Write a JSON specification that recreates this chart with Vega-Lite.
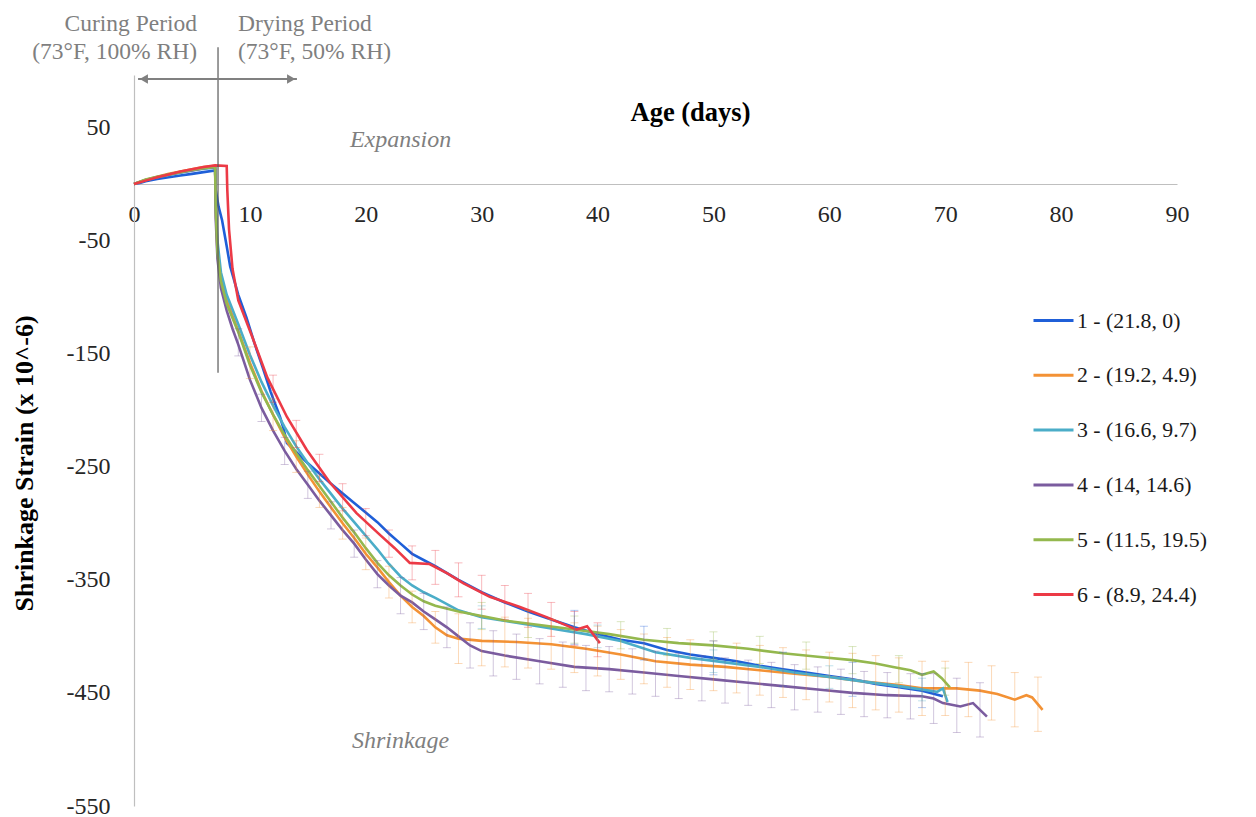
{
  "$schema": "https://vega.github.io/schema/vega-lite/v6.json",
  "width": 1043,
  "height": 731,
  "autosize": "none",
  "padding": {"left": 134, "top": 75, "right": 79, "bottom": 11},
  "background": "white",
  "config": {
    "view": {"stroke": null},
    "font": "Liberation Serif",
    "legend": {
      "symbolType": "stroke",
      "symbolSize": 1600,
      "symbolStrokeWidth": 3,
      "labelFont": "Liberation Serif",
      "labelFontSize": 21.8,
      "labelColor": "#1a1a1a",
      "labelOffset": 2,
      "rowPadding": 20.8
    }
  },
  "resolve": {"scale": {"color": "independent"}, "legend": {"color": "independent"}},
  "datasets": {
    "strain": [
      {"m": "1 - (21.8, 0)", "d": 0, "v": 0}, {"m": "1 - (21.8, 0)", "d": 0.5, "v": 1}, {"m": "1 - (21.8, 0)", "d": 1, "v": 2.5}, {"m": "1 - (21.8, 0)", "d": 2, "v": 4.5}, {"m": "1 - (21.8, 0)", "d": 3, "v": 6}, {"m": "1 - (21.8, 0)", "d": 4, "v": 7.5}, {"m": "1 - (21.8, 0)", "d": 5, "v": 9}, {"m": "1 - (21.8, 0)", "d": 6, "v": 10.5}, {"m": "1 - (21.8, 0)", "d": 7, "v": 12}, {"m": "1 - (21.8, 0)", "d": 7.05, "v": -5}, {"m": "1 - (21.8, 0)", "d": 7.3, "v": -20}, {"m": "1 - (21.8, 0)", "d": 7.6, "v": -32}, {"m": "1 - (21.8, 0)", "d": 8, "v": -55}, {"m": "1 - (21.8, 0)", "d": 8.3, "v": -73}, {"m": "1 - (21.8, 0)", "d": 9, "v": -98}, {"m": "1 - (21.8, 0)", "d": 9.7, "v": -118}, {"m": "1 - (21.8, 0)", "d": 10.4, "v": -141}, {"m": "1 - (21.8, 0)", "d": 11.1, "v": -162}, {"m": "1 - (21.8, 0)", "d": 11.8, "v": -184}, {"m": "1 - (21.8, 0)", "d": 12.6, "v": -206}, {"m": "1 - (21.8, 0)", "d": 12.9, "v": -216}, {"m": "1 - (21.8, 0)", "d": 13.2, "v": -229}, {"m": "1 - (21.8, 0)", "d": 15, "v": -247}, {"m": "1 - (21.8, 0)", "d": 17, "v": -265}, {"m": "1 - (21.8, 0)", "d": 19, "v": -282}, {"m": "1 - (21.8, 0)", "d": 21, "v": -299}, {"m": "1 - (21.8, 0)", "d": 22, "v": -309}, {"m": "1 - (21.8, 0)", "d": 23, "v": -318}, {"m": "1 - (21.8, 0)", "d": 24, "v": -327}, {"m": "1 - (21.8, 0)", "d": 26, "v": -338}, {"m": "1 - (21.8, 0)", "d": 28, "v": -350}, {"m": "1 - (21.8, 0)", "d": 30, "v": -361}, {"m": "1 - (21.8, 0)", "d": 32, "v": -370}, {"m": "1 - (21.8, 0)", "d": 34, "v": -378}, {"m": "1 - (21.8, 0)", "d": 36, "v": -385}, {"m": "1 - (21.8, 0)", "d": 38, "v": -392}, {"m": "1 - (21.8, 0)", "d": 40, "v": -398}, {"m": "1 - (21.8, 0)", "d": 42, "v": -403}, {"m": "1 - (21.8, 0)", "d": 44, "v": -406}, {"m": "1 - (21.8, 0)", "d": 46, "v": -412}, {"m": "1 - (21.8, 0)", "d": 48, "v": -416}, {"m": "1 - (21.8, 0)", "d": 50, "v": -419}, {"m": "1 - (21.8, 0)", "d": 52, "v": -422}, {"m": "1 - (21.8, 0)", "d": 54, "v": -426}, {"m": "1 - (21.8, 0)", "d": 56, "v": -429}, {"m": "1 - (21.8, 0)", "d": 58, "v": -432}, {"m": "1 - (21.8, 0)", "d": 60, "v": -435}, {"m": "1 - (21.8, 0)", "d": 62, "v": -438}, {"m": "1 - (21.8, 0)", "d": 64, "v": -442}, {"m": "1 - (21.8, 0)", "d": 66, "v": -445}, {"m": "1 - (21.8, 0)", "d": 68, "v": -448}, {"m": "1 - (21.8, 0)", "d": 69.8, "v": -453},

      {"m": "2 - (19.2, 4.9)", "d": 0, "v": 0}, {"m": "2 - (19.2, 4.9)", "d": 1, "v": 3.5}, {"m": "2 - (19.2, 4.9)", "d": 2, "v": 6.5}, {"m": "2 - (19.2, 4.9)", "d": 3, "v": 9}, {"m": "2 - (19.2, 4.9)", "d": 4, "v": 11}, {"m": "2 - (19.2, 4.9)", "d": 5, "v": 13}, {"m": "2 - (19.2, 4.9)", "d": 6, "v": 15}, {"m": "2 - (19.2, 4.9)", "d": 7, "v": 16}, {"m": "2 - (19.2, 4.9)", "d": 7.05, "v": -20}, {"m": "2 - (19.2, 4.9)", "d": 7.2, "v": -58}, {"m": "2 - (19.2, 4.9)", "d": 7.5, "v": -83}, {"m": "2 - (19.2, 4.9)", "d": 8, "v": -103}, {"m": "2 - (19.2, 4.9)", "d": 9, "v": -130}, {"m": "2 - (19.2, 4.9)", "d": 10, "v": -158}, {"m": "2 - (19.2, 4.9)", "d": 11, "v": -183}, {"m": "2 - (19.2, 4.9)", "d": 12, "v": -204}, {"m": "2 - (19.2, 4.9)", "d": 13, "v": -224}, {"m": "2 - (19.2, 4.9)", "d": 14, "v": -241}, {"m": "2 - (19.2, 4.9)", "d": 15, "v": -257}, {"m": "2 - (19.2, 4.9)", "d": 16, "v": -272}, {"m": "2 - (19.2, 4.9)", "d": 17, "v": -286}, {"m": "2 - (19.2, 4.9)", "d": 18, "v": -300}, {"m": "2 - (19.2, 4.9)", "d": 19, "v": -313}, {"m": "2 - (19.2, 4.9)", "d": 20, "v": -327}, {"m": "2 - (19.2, 4.9)", "d": 21, "v": -339}, {"m": "2 - (19.2, 4.9)", "d": 22, "v": -352}, {"m": "2 - (19.2, 4.9)", "d": 23, "v": -364}, {"m": "2 - (19.2, 4.9)", "d": 24, "v": -374}, {"m": "2 - (19.2, 4.9)", "d": 25, "v": -382}, {"m": "2 - (19.2, 4.9)", "d": 26, "v": -392}, {"m": "2 - (19.2, 4.9)", "d": 27, "v": -399}, {"m": "2 - (19.2, 4.9)", "d": 28, "v": -402}, {"m": "2 - (19.2, 4.9)", "d": 30, "v": -404}, {"m": "2 - (19.2, 4.9)", "d": 33, "v": -405}, {"m": "2 - (19.2, 4.9)", "d": 36, "v": -407}, {"m": "2 - (19.2, 4.9)", "d": 39, "v": -411}, {"m": "2 - (19.2, 4.9)", "d": 42, "v": -416}, {"m": "2 - (19.2, 4.9)", "d": 45, "v": -422}, {"m": "2 - (19.2, 4.9)", "d": 48, "v": -425}, {"m": "2 - (19.2, 4.9)", "d": 51, "v": -427}, {"m": "2 - (19.2, 4.9)", "d": 54, "v": -430}, {"m": "2 - (19.2, 4.9)", "d": 57, "v": -433}, {"m": "2 - (19.2, 4.9)", "d": 60, "v": -436}, {"m": "2 - (19.2, 4.9)", "d": 63, "v": -440}, {"m": "2 - (19.2, 4.9)", "d": 66, "v": -443}, {"m": "2 - (19.2, 4.9)", "d": 68, "v": -446}, {"m": "2 - (19.2, 4.9)", "d": 71, "v": -446}, {"m": "2 - (19.2, 4.9)", "d": 73, "v": -448}, {"m": "2 - (19.2, 4.9)", "d": 74.5, "v": -451}, {"m": "2 - (19.2, 4.9)", "d": 76, "v": -456}, {"m": "2 - (19.2, 4.9)", "d": 77, "v": -452}, {"m": "2 - (19.2, 4.9)", "d": 77.5, "v": -454}, {"m": "2 - (19.2, 4.9)", "d": 78.4, "v": -465},

      {"m": "3 - (16.6, 9.7)", "d": 0, "v": 0}, {"m": "3 - (16.6, 9.7)", "d": 1, "v": 3.5}, {"m": "3 - (16.6, 9.7)", "d": 2, "v": 6}, {"m": "3 - (16.6, 9.7)", "d": 3, "v": 8}, {"m": "3 - (16.6, 9.7)", "d": 4, "v": 10}, {"m": "3 - (16.6, 9.7)", "d": 5, "v": 12}, {"m": "3 - (16.6, 9.7)", "d": 6, "v": 13.5}, {"m": "3 - (16.6, 9.7)", "d": 7, "v": 14.5}, {"m": "3 - (16.6, 9.7)", "d": 7.05, "v": -15}, {"m": "3 - (16.6, 9.7)", "d": 7.2, "v": -50}, {"m": "3 - (16.6, 9.7)", "d": 7.5, "v": -78}, {"m": "3 - (16.6, 9.7)", "d": 8, "v": -98}, {"m": "3 - (16.6, 9.7)", "d": 9, "v": -124}, {"m": "3 - (16.6, 9.7)", "d": 10, "v": -151}, {"m": "3 - (16.6, 9.7)", "d": 11, "v": -175}, {"m": "3 - (16.6, 9.7)", "d": 12, "v": -196}, {"m": "3 - (16.6, 9.7)", "d": 13, "v": -215}, {"m": "3 - (16.6, 9.7)", "d": 14, "v": -232}, {"m": "3 - (16.6, 9.7)", "d": 15, "v": -247}, {"m": "3 - (16.6, 9.7)", "d": 16, "v": -261}, {"m": "3 - (16.6, 9.7)", "d": 17, "v": -274}, {"m": "3 - (16.6, 9.7)", "d": 18, "v": -287}, {"m": "3 - (16.6, 9.7)", "d": 19, "v": -299}, {"m": "3 - (16.6, 9.7)", "d": 20, "v": -311}, {"m": "3 - (16.6, 9.7)", "d": 21, "v": -323}, {"m": "3 - (16.6, 9.7)", "d": 22, "v": -336}, {"m": "3 - (16.6, 9.7)", "d": 23, "v": -347}, {"m": "3 - (16.6, 9.7)", "d": 24, "v": -355}, {"m": "3 - (16.6, 9.7)", "d": 25, "v": -361}, {"m": "3 - (16.6, 9.7)", "d": 26, "v": -366}, {"m": "3 - (16.6, 9.7)", "d": 28, "v": -377}, {"m": "3 - (16.6, 9.7)", "d": 30, "v": -383}, {"m": "3 - (16.6, 9.7)", "d": 33, "v": -388}, {"m": "3 - (16.6, 9.7)", "d": 36, "v": -393}, {"m": "3 - (16.6, 9.7)", "d": 39, "v": -398}, {"m": "3 - (16.6, 9.7)", "d": 42, "v": -404}, {"m": "3 - (16.6, 9.7)", "d": 45, "v": -414}, {"m": "3 - (16.6, 9.7)", "d": 48, "v": -419}, {"m": "3 - (16.6, 9.7)", "d": 51, "v": -423}, {"m": "3 - (16.6, 9.7)", "d": 54, "v": -427}, {"m": "3 - (16.6, 9.7)", "d": 57, "v": -432}, {"m": "3 - (16.6, 9.7)", "d": 60, "v": -436}, {"m": "3 - (16.6, 9.7)", "d": 63, "v": -440}, {"m": "3 - (16.6, 9.7)", "d": 66, "v": -444}, {"m": "3 - (16.6, 9.7)", "d": 68, "v": -447}, {"m": "3 - (16.6, 9.7)", "d": 69.3, "v": -449}, {"m": "3 - (16.6, 9.7)", "d": 69.8, "v": -446}, {"m": "3 - (16.6, 9.7)", "d": 70.2, "v": -458},

      {"m": "4 - (14, 14.6)", "d": 0, "v": 0}, {"m": "4 - (14, 14.6)", "d": 1, "v": 3.5}, {"m": "4 - (14, 14.6)", "d": 2, "v": 6}, {"m": "4 - (14, 14.6)", "d": 3, "v": 8.5}, {"m": "4 - (14, 14.6)", "d": 4, "v": 10.5}, {"m": "4 - (14, 14.6)", "d": 5, "v": 12}, {"m": "4 - (14, 14.6)", "d": 6, "v": 14}, {"m": "4 - (14, 14.6)", "d": 7, "v": 15}, {"m": "4 - (14, 14.6)", "d": 7.05, "v": -30}, {"m": "4 - (14, 14.6)", "d": 7.2, "v": -66}, {"m": "4 - (14, 14.6)", "d": 7.5, "v": -92}, {"m": "4 - (14, 14.6)", "d": 8, "v": -112}, {"m": "4 - (14, 14.6)", "d": 8.5, "v": -128}, {"m": "4 - (14, 14.6)", "d": 9, "v": -142}, {"m": "4 - (14, 14.6)", "d": 10, "v": -173}, {"m": "4 - (14, 14.6)", "d": 11, "v": -198}, {"m": "4 - (14, 14.6)", "d": 12, "v": -218}, {"m": "4 - (14, 14.6)", "d": 13, "v": -236}, {"m": "4 - (14, 14.6)", "d": 14, "v": -252}, {"m": "4 - (14, 14.6)", "d": 15, "v": -266}, {"m": "4 - (14, 14.6)", "d": 16, "v": -280}, {"m": "4 - (14, 14.6)", "d": 17, "v": -293}, {"m": "4 - (14, 14.6)", "d": 18, "v": -306}, {"m": "4 - (14, 14.6)", "d": 19, "v": -318}, {"m": "4 - (14, 14.6)", "d": 20, "v": -332}, {"m": "4 - (14, 14.6)", "d": 21, "v": -345}, {"m": "4 - (14, 14.6)", "d": 22, "v": -355}, {"m": "4 - (14, 14.6)", "d": 23, "v": -364}, {"m": "4 - (14, 14.6)", "d": 24, "v": -370}, {"m": "4 - (14, 14.6)", "d": 25, "v": -378}, {"m": "4 - (14, 14.6)", "d": 26, "v": -385}, {"m": "4 - (14, 14.6)", "d": 27, "v": -392}, {"m": "4 - (14, 14.6)", "d": 28, "v": -400}, {"m": "4 - (14, 14.6)", "d": 29, "v": -408}, {"m": "4 - (14, 14.6)", "d": 30, "v": -413}, {"m": "4 - (14, 14.6)", "d": 32, "v": -417}, {"m": "4 - (14, 14.6)", "d": 35, "v": -422}, {"m": "4 - (14, 14.6)", "d": 38, "v": -427}, {"m": "4 - (14, 14.6)", "d": 41, "v": -429}, {"m": "4 - (14, 14.6)", "d": 44, "v": -432}, {"m": "4 - (14, 14.6)", "d": 47, "v": -435}, {"m": "4 - (14, 14.6)", "d": 50, "v": -438}, {"m": "4 - (14, 14.6)", "d": 53, "v": -441}, {"m": "4 - (14, 14.6)", "d": 56, "v": -444}, {"m": "4 - (14, 14.6)", "d": 59, "v": -447}, {"m": "4 - (14, 14.6)", "d": 62, "v": -450}, {"m": "4 - (14, 14.6)", "d": 65, "v": -452}, {"m": "4 - (14, 14.6)", "d": 68, "v": -453}, {"m": "4 - (14, 14.6)", "d": 69, "v": -455}, {"m": "4 - (14, 14.6)", "d": 69.8, "v": -459}, {"m": "4 - (14, 14.6)", "d": 71.3, "v": -462}, {"m": "4 - (14, 14.6)", "d": 72.4, "v": -459}, {"m": "4 - (14, 14.6)", "d": 73.6, "v": -471},

      {"m": "5 - (11.5, 19.5)", "d": 0, "v": 0}, {"m": "5 - (11.5, 19.5)", "d": 1, "v": 4}, {"m": "5 - (11.5, 19.5)", "d": 2, "v": 6.5}, {"m": "5 - (11.5, 19.5)", "d": 3, "v": 8.5}, {"m": "5 - (11.5, 19.5)", "d": 4, "v": 10.5}, {"m": "5 - (11.5, 19.5)", "d": 5, "v": 12.5}, {"m": "5 - (11.5, 19.5)", "d": 6, "v": 14}, {"m": "5 - (11.5, 19.5)", "d": 7, "v": 15}, {"m": "5 - (11.5, 19.5)", "d": 7.05, "v": -22}, {"m": "5 - (11.5, 19.5)", "d": 7.2, "v": -60}, {"m": "5 - (11.5, 19.5)", "d": 7.5, "v": -86}, {"m": "5 - (11.5, 19.5)", "d": 8, "v": -106}, {"m": "5 - (11.5, 19.5)", "d": 9, "v": -131}, {"m": "5 - (11.5, 19.5)", "d": 10, "v": -160}, {"m": "5 - (11.5, 19.5)", "d": 11, "v": -184}, {"m": "5 - (11.5, 19.5)", "d": 12, "v": -204}, {"m": "5 - (11.5, 19.5)", "d": 13, "v": -222}, {"m": "5 - (11.5, 19.5)", "d": 14, "v": -238}, {"m": "5 - (11.5, 19.5)", "d": 15, "v": -253}, {"m": "5 - (11.5, 19.5)", "d": 16, "v": -267}, {"m": "5 - (11.5, 19.5)", "d": 17, "v": -281}, {"m": "5 - (11.5, 19.5)", "d": 18, "v": -295}, {"m": "5 - (11.5, 19.5)", "d": 19, "v": -308}, {"m": "5 - (11.5, 19.5)", "d": 20, "v": -322}, {"m": "5 - (11.5, 19.5)", "d": 21, "v": -335}, {"m": "5 - (11.5, 19.5)", "d": 22, "v": -346}, {"m": "5 - (11.5, 19.5)", "d": 23, "v": -355}, {"m": "5 - (11.5, 19.5)", "d": 24, "v": -363}, {"m": "5 - (11.5, 19.5)", "d": 25, "v": -369}, {"m": "5 - (11.5, 19.5)", "d": 26, "v": -373}, {"m": "5 - (11.5, 19.5)", "d": 28, "v": -378}, {"m": "5 - (11.5, 19.5)", "d": 30, "v": -382}, {"m": "5 - (11.5, 19.5)", "d": 32, "v": -386}, {"m": "5 - (11.5, 19.5)", "d": 35, "v": -390}, {"m": "5 - (11.5, 19.5)", "d": 38, "v": -394}, {"m": "5 - (11.5, 19.5)", "d": 41, "v": -398}, {"m": "5 - (11.5, 19.5)", "d": 44, "v": -403}, {"m": "5 - (11.5, 19.5)", "d": 47, "v": -406}, {"m": "5 - (11.5, 19.5)", "d": 50, "v": -408}, {"m": "5 - (11.5, 19.5)", "d": 53, "v": -411}, {"m": "5 - (11.5, 19.5)", "d": 56, "v": -415}, {"m": "5 - (11.5, 19.5)", "d": 59, "v": -418}, {"m": "5 - (11.5, 19.5)", "d": 62, "v": -421}, {"m": "5 - (11.5, 19.5)", "d": 64, "v": -424}, {"m": "5 - (11.5, 19.5)", "d": 65.5, "v": -427}, {"m": "5 - (11.5, 19.5)", "d": 67, "v": -430}, {"m": "5 - (11.5, 19.5)", "d": 68, "v": -434}, {"m": "5 - (11.5, 19.5)", "d": 69, "v": -431}, {"m": "5 - (11.5, 19.5)", "d": 69.7, "v": -437}, {"m": "5 - (11.5, 19.5)", "d": 70.4, "v": -445},

      {"m": "6 - (8.9, 24.4)", "d": 0, "v": 0}, {"m": "6 - (8.9, 24.4)", "d": 1, "v": 3}, {"m": "6 - (8.9, 24.4)", "d": 2, "v": 6}, {"m": "6 - (8.9, 24.4)", "d": 3, "v": 8.5}, {"m": "6 - (8.9, 24.4)", "d": 4, "v": 11}, {"m": "6 - (8.9, 24.4)", "d": 5, "v": 13}, {"m": "6 - (8.9, 24.4)", "d": 6, "v": 15}, {"m": "6 - (8.9, 24.4)", "d": 7, "v": 16.5}, {"m": "6 - (8.9, 24.4)", "d": 8, "v": 16}, {"m": "6 - (8.9, 24.4)", "d": 8.05, "v": -5}, {"m": "6 - (8.9, 24.4)", "d": 8.2, "v": -40}, {"m": "6 - (8.9, 24.4)", "d": 8.5, "v": -75}, {"m": "6 - (8.9, 24.4)", "d": 9, "v": -103}, {"m": "6 - (8.9, 24.4)", "d": 10.2, "v": -135}, {"m": "6 - (8.9, 24.4)", "d": 11.5, "v": -171}, {"m": "6 - (8.9, 24.4)", "d": 13.2, "v": -206}, {"m": "6 - (8.9, 24.4)", "d": 14.9, "v": -235}, {"m": "6 - (8.9, 24.4)", "d": 16.9, "v": -264}, {"m": "6 - (8.9, 24.4)", "d": 19.2, "v": -291}, {"m": "6 - (8.9, 24.4)", "d": 21.2, "v": -310}, {"m": "6 - (8.9, 24.4)", "d": 22.5, "v": -322}, {"m": "6 - (8.9, 24.4)", "d": 23.8, "v": -335}, {"m": "6 - (8.9, 24.4)", "d": 25.5, "v": -336}, {"m": "6 - (8.9, 24.4)", "d": 27, "v": -344}, {"m": "6 - (8.9, 24.4)", "d": 28.4, "v": -353}, {"m": "6 - (8.9, 24.4)", "d": 30.7, "v": -365}, {"m": "6 - (8.9, 24.4)", "d": 33.3, "v": -374}, {"m": "6 - (8.9, 24.4)", "d": 35.6, "v": -383}, {"m": "6 - (8.9, 24.4)", "d": 38.2, "v": -394}, {"m": "6 - (8.9, 24.4)", "d": 39.1, "v": -391}, {"m": "6 - (8.9, 24.4)", "d": 40.2, "v": -406}
    ],
    "spread": [
      {"m": "2 - (19.2, 4.9)", "d": 10, "lo": -172, "hi": -144}, {"m": "2 - (19.2, 4.9)", "d": 12, "lo": -218, "hi": -190}, {"m": "2 - (19.2, 4.9)", "d": 14, "lo": -255, "hi": -227}, {"m": "2 - (19.2, 4.9)", "d": 16, "lo": -286, "hi": -258}, {"m": "2 - (19.2, 4.9)", "d": 18, "lo": -314, "hi": -286}, {"m": "2 - (19.2, 4.9)", "d": 20, "lo": -341, "hi": -313}, {"m": "2 - (19.2, 4.9)", "d": 22, "lo": -366, "hi": -338}, {"m": "2 - (19.2, 4.9)", "d": 24, "lo": -388, "hi": -360}, {"m": "2 - (19.2, 4.9)", "d": 26, "lo": -406, "hi": -378}, {"m": "2 - (19.2, 4.9)", "d": 28, "lo": -424, "hi": -380}, {"m": "2 - (19.2, 4.9)", "d": 30, "lo": -426, "hi": -382}, {"m": "2 - (19.2, 4.9)", "d": 32, "lo": -427, "hi": -383}, {"m": "2 - (19.2, 4.9)", "d": 34, "lo": -428, "hi": -384}, {"m": "2 - (19.2, 4.9)", "d": 36, "lo": -429, "hi": -385}, {"m": "2 - (19.2, 4.9)", "d": 38, "lo": -432, "hi": -388}, {"m": "2 - (19.2, 4.9)", "d": 40, "lo": -435, "hi": -391}, {"m": "2 - (19.2, 4.9)", "d": 42, "lo": -438, "hi": -394}, {"m": "2 - (19.2, 4.9)", "d": 44, "lo": -442, "hi": -398}, {"m": "2 - (19.2, 4.9)", "d": 46, "lo": -445, "hi": -401}, {"m": "2 - (19.2, 4.9)", "d": 48, "lo": -447, "hi": -403}, {"m": "2 - (19.2, 4.9)", "d": 50, "lo": -448, "hi": -404}, {"m": "2 - (19.2, 4.9)", "d": 52, "lo": -450, "hi": -406}, {"m": "2 - (19.2, 4.9)", "d": 54, "lo": -452, "hi": -408}, {"m": "2 - (19.2, 4.9)", "d": 56, "lo": -454, "hi": -410}, {"m": "2 - (19.2, 4.9)", "d": 58, "lo": -456, "hi": -412}, {"m": "2 - (19.2, 4.9)", "d": 60, "lo": -458, "hi": -414}, {"m": "2 - (19.2, 4.9)", "d": 62, "lo": -463, "hi": -415}, {"m": "2 - (19.2, 4.9)", "d": 64, "lo": -465, "hi": -417}, {"m": "2 - (19.2, 4.9)", "d": 66, "lo": -467, "hi": -419}, {"m": "2 - (19.2, 4.9)", "d": 68, "lo": -470, "hi": -422}, {"m": "2 - (19.2, 4.9)", "d": 70, "lo": -470, "hi": -422}, {"m": "2 - (19.2, 4.9)", "d": 72, "lo": -471, "hi": -423}, {"m": "2 - (19.2, 4.9)", "d": 74, "lo": -474, "hi": -426}, {"m": "2 - (19.2, 4.9)", "d": 76, "lo": -480, "hi": -432}, {"m": "2 - (19.2, 4.9)", "d": 78, "lo": -484, "hi": -436},

      {"m": "4 - (14, 14.6)", "d": 9, "lo": -152, "hi": -128}, {"m": "4 - (14, 14.6)", "d": 11, "lo": -210, "hi": -186}, {"m": "4 - (14, 14.6)", "d": 13, "lo": -248, "hi": -224}, {"m": "4 - (14, 14.6)", "d": 15, "lo": -278, "hi": -254}, {"m": "4 - (14, 14.6)", "d": 17, "lo": -305, "hi": -281}, {"m": "4 - (14, 14.6)", "d": 19, "lo": -330, "hi": -306}, {"m": "4 - (14, 14.6)", "d": 21, "lo": -357, "hi": -333}, {"m": "4 - (14, 14.6)", "d": 23, "lo": -380, "hi": -348}, {"m": "4 - (14, 14.6)", "d": 25, "lo": -394, "hi": -362}, {"m": "4 - (14, 14.6)", "d": 27, "lo": -410, "hi": -374}, {"m": "4 - (14, 14.6)", "d": 29, "lo": -428, "hi": -388}, {"m": "4 - (14, 14.6)", "d": 31, "lo": -435, "hi": -395}, {"m": "4 - (14, 14.6)", "d": 33, "lo": -438, "hi": -398}, {"m": "4 - (14, 14.6)", "d": 35, "lo": -442, "hi": -402}, {"m": "4 - (14, 14.6)", "d": 37, "lo": -445, "hi": -405}, {"m": "4 - (14, 14.6)", "d": 39, "lo": -448, "hi": -408}, {"m": "4 - (14, 14.6)", "d": 41, "lo": -449, "hi": -409}, {"m": "4 - (14, 14.6)", "d": 43, "lo": -451, "hi": -411}, {"m": "4 - (14, 14.6)", "d": 45, "lo": -453, "hi": -413}, {"m": "4 - (14, 14.6)", "d": 47, "lo": -455, "hi": -415}, {"m": "4 - (14, 14.6)", "d": 49, "lo": -457, "hi": -417}, {"m": "4 - (14, 14.6)", "d": 51, "lo": -459, "hi": -419}, {"m": "4 - (14, 14.6)", "d": 53, "lo": -461, "hi": -421}, {"m": "4 - (14, 14.6)", "d": 55, "lo": -463, "hi": -423}, {"m": "4 - (14, 14.6)", "d": 57, "lo": -465, "hi": -425}, {"m": "4 - (14, 14.6)", "d": 59, "lo": -467, "hi": -427}, {"m": "4 - (14, 14.6)", "d": 61, "lo": -469, "hi": -429}, {"m": "4 - (14, 14.6)", "d": 63, "lo": -471, "hi": -431}, {"m": "4 - (14, 14.6)", "d": 65, "lo": -472, "hi": -432}, {"m": "4 - (14, 14.6)", "d": 67, "lo": -473, "hi": -433}, {"m": "4 - (14, 14.6)", "d": 69, "lo": -477, "hi": -433}, {"m": "4 - (14, 14.6)", "d": 71, "lo": -485, "hi": -437}, {"m": "4 - (14, 14.6)", "d": 73, "lo": -489, "hi": -441},

      {"m": "6 - (8.9, 24.4)", "d": 12, "lo": -193, "hi": -169}, {"m": "6 - (8.9, 24.4)", "d": 14, "lo": -233, "hi": -209}, {"m": "6 - (8.9, 24.4)", "d": 16, "lo": -263, "hi": -239}, {"m": "6 - (8.9, 24.4)", "d": 18, "lo": -289, "hi": -265}, {"m": "6 - (8.9, 24.4)", "d": 20, "lo": -311, "hi": -287}, {"m": "6 - (8.9, 24.4)", "d": 22, "lo": -330, "hi": -306}, {"m": "6 - (8.9, 24.4)", "d": 24, "lo": -350, "hi": -320}, {"m": "6 - (8.9, 24.4)", "d": 26, "lo": -354, "hi": -324}, {"m": "6 - (8.9, 24.4)", "d": 28, "lo": -365, "hi": -335}, {"m": "6 - (8.9, 24.4)", "d": 30, "lo": -376, "hi": -346}, {"m": "6 - (8.9, 24.4)", "d": 32, "lo": -385, "hi": -355}, {"m": "6 - (8.9, 24.4)", "d": 34, "lo": -392, "hi": -362}, {"m": "6 - (8.9, 24.4)", "d": 36, "lo": -400, "hi": -370}, {"m": "6 - (8.9, 24.4)", "d": 38, "lo": -408, "hi": -378}, {"m": "6 - (8.9, 24.4)", "d": 40, "lo": -418, "hi": -388},

      {"m": "5 - (11.5, 19.5)", "d": 30, "lo": -394, "hi": -370}, {"m": "5 - (11.5, 19.5)", "d": 34, "lo": -401, "hi": -377}, {"m": "5 - (11.5, 19.5)", "d": 38, "lo": -406, "hi": -382}, {"m": "5 - (11.5, 19.5)", "d": 42, "lo": -411, "hi": -387}, {"m": "5 - (11.5, 19.5)", "d": 46, "lo": -417, "hi": -393}, {"m": "5 - (11.5, 19.5)", "d": 50, "lo": -420, "hi": -396}, {"m": "5 - (11.5, 19.5)", "d": 54, "lo": -424, "hi": -400}, {"m": "5 - (11.5, 19.5)", "d": 58, "lo": -429, "hi": -405}, {"m": "5 - (11.5, 19.5)", "d": 62, "lo": -433, "hi": -409}, {"m": "5 - (11.5, 19.5)", "d": 66, "lo": -441, "hi": -417}, {"m": "5 - (11.5, 19.5)", "d": 70, "lo": -452, "hi": -428},

      {"m": "1 - (21.8, 0)", "d": 38, "lo": -407, "hi": -377}, {"m": "1 - (21.8, 0)", "d": 44, "lo": -421, "hi": -391}, {"m": "1 - (21.8, 0)", "d": 50, "lo": -434, "hi": -404}, {"m": "1 - (21.8, 0)", "d": 56, "lo": -444, "hi": -414}, {"m": "1 - (21.8, 0)", "d": 62, "lo": -453, "hi": -423}, {"m": "1 - (21.8, 0)", "d": 68, "lo": -463, "hi": -433},

      {"m": "3 - (16.6, 9.7)", "d": 30, "lo": -393, "hi": -373}, {"m": "3 - (16.6, 9.7)", "d": 40, "lo": -410, "hi": -390}, {"m": "3 - (16.6, 9.7)", "d": 50, "lo": -432, "hi": -412}, {"m": "3 - (16.6, 9.7)", "d": 60, "lo": -446, "hi": -426}, {"m": "3 - (16.6, 9.7)", "d": 68, "lo": -457, "hi": -437}
    ]
  },
  "layer": [
    {
      "data": {"name": "strain"},
      "mark": {"type": "line", "strokeWidth": 2.6, "interpolate": "linear"},
      "encoding": {
        "x": {
          "field": "d", "type": "quantitative", "title": "Age (days)",
          "scale": {"domain": [0, 90], "nice": false},
          "axis": {
            "orient": "bottom", "offset": -622,
            "values": [0, 10, 20, 30, 40, 50, 60, 70, 80, 90],
            "ticks": false, "grid": false,
            "domainColor": "#BFBFBF", "domainWidth": 1.2,
            "labelFont": "Liberation Serif", "labelFontSize": 24, "labelColor": "#262626",
            "labelPadding": 18, "labelFlush": false,
            "titleFont": "Liberation Serif", "titleFontSize": 26.5,
            "titleFontWeight": "bold", "titleColor": "#000000",
            "titleX": 556, "titleY": -72, "titleBaseline": "middle", "titleAlign": "center"
          }
        },
        "y": {
          "field": "v", "type": "quantitative", "title": "Shrinkage Strain (x 10^-6)",
          "scale": {"domain": [-550, 96.4], "nice": false, "zero": false},
          "axis": {
            "values": [-550, -450, -350, -250, -150, -50, 50],
            "labelExpr": "'' + datum.value",
            "ticks": false, "grid": false,
            "domainColor": "#BFBFBF", "domainWidth": 1.2,
            "labelFont": "Liberation Serif", "labelFontSize": 24, "labelColor": "#262626",
            "labelPadding": 24,
            "titleFont": "Liberation Serif", "titleFontSize": 26,
            "titleFontWeight": "bold", "titleColor": "#000000",
            "titleX": -110, "titleY": 388, "titleAngle": -90, "titleBaseline": "middle", "titleAlign": "center"
          }
        },
        "color": {
          "field": "m", "type": "nominal",
          "scale": {
            "domain": ["1 - (21.8, 0)", "2 - (19.2, 4.9)", "3 - (16.6, 9.7)", "4 - (14, 14.6)", "5 - (11.5, 19.5)", "6 - (8.9, 24.4)"],
            "range": ["#1F5FD8", "#F39235", "#4BADC8", "#7B5C9F", "#94B84E", "#EC3A46"]
          },
          "legend": {"orient": "none", "legendX": 898, "legendY": 224, "title": null, "direction": "vertical"}
        }
      }
    },
    {
      "data": {"name": "spread"},
      "mark": {"type": "errorbar", "thickness": 1, "rule": {"opacity": 0.35}, "ticks": {"size": 8, "opacity": 0.35}},
      "encoding": {
        "x": {"field": "d", "type": "quantitative", "title": "Age (days)"},
        "y": {"field": "lo", "type": "quantitative", "title": "Shrinkage Strain (x 10^-6)"},
        "y2": {"field": "hi"},
        "color": {
          "field": "m", "type": "nominal",
          "scale": {
            "domain": ["1 - (21.8, 0)", "2 - (19.2, 4.9)", "3 - (16.6, 9.7)", "4 - (14, 14.6)", "5 - (11.5, 19.5)", "6 - (8.9, 24.4)"],
            "range": ["#1F5FD8", "#F39235", "#4BADC8", "#7B5C9F", "#94B84E", "#EC3A46"]
          },
          "legend": null
        }
      }
    },
    {
      "data": {"values": [{"d": 7.25, "v": 121, "v2": -167}]},
      "mark": {"type": "rule", "color": "#595959", "strokeWidth": 1.2},
      "encoding": {
        "x": {"field": "d", "type": "quantitative", "title": "Age (days)"},
        "y": {"field": "v", "type": "quantitative", "title": "Shrinkage Strain (x 10^-6)"},
        "y2": {"field": "v2"}
      }
    },
    {
      "data": {"values": [{"d": 0.35, "v": 92.8}, {"d": 14.06, "v": 92.8}]},
      "mark": {"type": "line", "color": "#808080", "strokeWidth": 2},
      "encoding": {
        "x": {"field": "d", "type": "quantitative", "title": "Age (days)"},
        "y": {"field": "v", "type": "quantitative", "title": "Shrinkage Strain (x 10^-6)"}
      }
    },
    {
      "data": {"values": [{"d": 0.85, "v": 92.8, "s": "triangle-left"}, {"d": 13.56, "v": 92.8, "s": "triangle-right"}]},
      "mark": {"type": "point", "filled": true, "color": "#808080", "opacity": 1, "size": 90},
      "encoding": {
        "x": {"field": "d", "type": "quantitative", "title": "Age (days)"},
        "y": {"field": "v", "type": "quantitative", "title": "Shrinkage Strain (x 10^-6)"},
        "shape": {"field": "s", "type": "nominal", "scale": null, "legend": null}
      }
    },
    {
      "data": {"values": [
        {"d": 5.44, "v": 141.5, "t": "Curing Period"},
        {"d": 5.44, "v": 116.7, "t": "(73°F, 100% RH)"}
      ]},
      "mark": {"type": "text", "align": "right", "baseline": "middle", "font": "Liberation Serif", "fontSize": 23.5, "color": "#7F7F7F"},
      "encoding": {
        "x": {"field": "d", "type": "quantitative", "title": "Age (days)"},
        "y": {"field": "v", "type": "quantitative", "title": "Shrinkage Strain (x 10^-6)"},
        "text": {"field": "t"}
      }
    },
    {
      "data": {"values": [
        {"d": 8.97, "v": 141.5, "t": "Drying Period"},
        {"d": 8.97, "v": 116.7, "t": "(73°F, 50% RH)"}
      ]},
      "mark": {"type": "text", "align": "left", "baseline": "middle", "font": "Liberation Serif", "fontSize": 23.5, "color": "#7F7F7F"},
      "encoding": {
        "x": {"field": "d", "type": "quantitative", "title": "Age (days)"},
        "y": {"field": "v", "type": "quantitative", "title": "Shrinkage Strain (x 10^-6)"},
        "text": {"field": "t"}
      }
    },
    {
      "data": {"values": [
        {"d": 23.0, "v": 38.9, "t": "Expansion"},
        {"d": 23.0, "v": -492.5, "t": "Shrinkage"}
      ]},
      "mark": {"type": "text", "align": "center", "baseline": "middle", "font": "Liberation Serif", "fontStyle": "italic", "fontSize": 24, "color": "#7F7F7F"},
      "encoding": {
        "x": {"field": "d", "type": "quantitative", "title": "Age (days)"},
        "y": {"field": "v", "type": "quantitative", "title": "Shrinkage Strain (x 10^-6)"},
        "text": {"field": "t"}
      }
    }
  ]
}
